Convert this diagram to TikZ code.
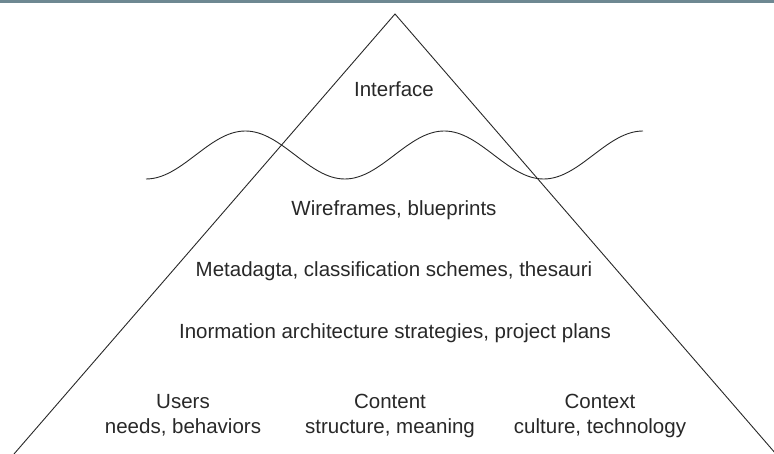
\documentclass[tikz,border=0pt]{standalone}
\usepackage{fontspec}
\setmainfont{Liberation Sans}
\definecolor{barblue}{RGB}{110,136,146}
\definecolor{inkgray}{RGB}{40,40,40}

\begin{document}
\begin{tikzpicture}[x=1pt, y=-1pt, line width = 0.9pt,
  lbl/.style={anchor=base, text=inkgray, inner sep=0pt, align=center,
    font=\fontsize{20.5}{25}\selectfont}]

\useasboundingbox (0,0) rectangle (774,454);
\clip (0,0) rectangle (774,454);

\fill [barblue] (0,0) rectangle (774,2.6);

% pyramid
\coordinate (apex) at (395,14);
\coordinate (baseL) at (14,454);
\coordinate (baseR) at (776,454);
\draw [inkgray] (baseL) -- (apex) -- (baseR);

% wave
\draw [inkgray] (146,179) cos (195.7,155) sin (245.4,131) cos (295.1,155)
  sin (344.8,179) cos (394.5,155) sin (444.2,131) cos (493.9,155)
  sin (543.6,179) cos (593.3,155) sin (643,131);

\node (iface) [lbl] at (394,97) {Interface};
\node (wire) [lbl] at (394,216) {Wireframes, blueprints};
\node (meta) [lbl] at (394,277) {Metadagta, classification schemes, thesauri};
\node (strat) [lbl] at (395,339) {Inormation architecture strategies, project plans};

% base = last line
\node (users) [lbl] at (183,433) {Users\\needs, behaviors};
\node (content) [lbl] at (390,433) {Content\\structure, meaning};
\node (context) [lbl] at (600,433) {Context\\culture, technology};

\end{tikzpicture}
\end{document}
